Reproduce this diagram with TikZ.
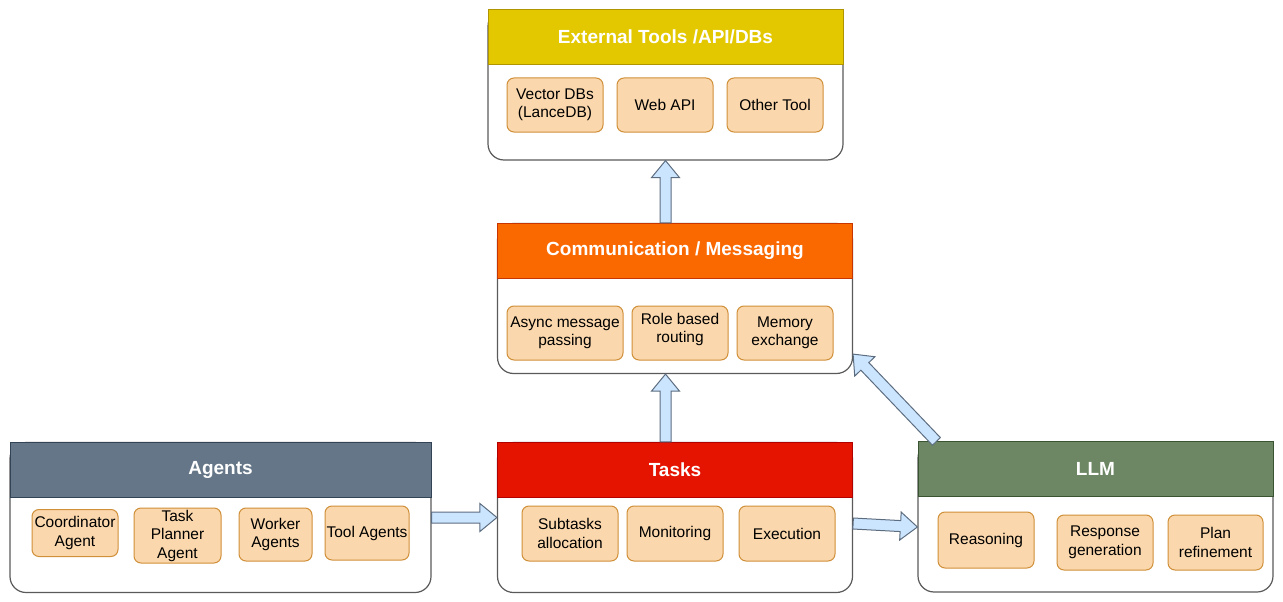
\documentclass[tikz,border=0pt]{standalone}
\usepackage{fontspec}
\setmainfont{Liberation Sans}
\usetikzlibrary{calc, positioning}
\usepackage{xcolor}

\definecolor{frameGray}{HTML}{5A5A5A}
\definecolor{itemFill}{HTML}{FAD7AC}
\definecolor{itemLine}{HTML}{D0903A}
\definecolor{arrowFill}{HTML}{CCE5FF}
\definecolor{arrowLine}{HTML}{5D6D80}
\definecolor{extHeadFill}{HTML}{E3C800}
\definecolor{extHeadLine}{HTML}{B09500}
\definecolor{commHeadFill}{HTML}{FA6800}
\definecolor{commHeadLine}{HTML}{C73500}
\definecolor{agentHeadFill}{HTML}{647687}
\definecolor{agentHeadLine}{HTML}{314354}
\definecolor{taskHeadFill}{HTML}{E51400}
\definecolor{taskHeadLine}{HTML}{B20000}
\definecolor{llmHeadFill}{HTML}{6D8764}
\definecolor{llmHeadLine}{HTML}{3A5431}

\begin{document}
\begin{tikzpicture}[
  x=1pt, y=-1pt,
  layer/.style={rectangle, draw=frameGray, line width=1.2pt, fill=white,
    rounded corners=16pt, minimum width=355, minimum height=150, inner sep=0pt},
  head/.style={rectangle, line width=0.8pt, minimum width=355, minimum height=55,
    anchor=north, text=white, font=\fontsize{19}{23}\selectfont\bfseries},
  item/.style={rectangle, draw=itemLine, fill=itemFill, rounded corners=7pt,
    line width=1pt, align=center, inner sep=0pt, minimum width=96,
    minimum height=54, font=\fontsize{15.5}{18.5}\selectfont},
  fatarrow/.style={draw=arrowLine, fill=arrowFill, line width=1pt, line join=miter,
    to path={
      ($(\tikztostart)!5.5pt!-90:(\tikztotarget)$)
      -- ($(\tikztotarget)!17pt!(\tikztostart)!5.5pt!90:(\tikztostart)$)
      -- ($(\tikztotarget)!17pt!(\tikztostart)!14pt!90:(\tikztostart)$)
      -- (\tikztotarget)
      -- ($(\tikztotarget)!17pt!(\tikztostart)!14pt!-90:(\tikztostart)$)
      -- ($(\tikztotarget)!17pt!(\tikztostart)!5.5pt!-90:(\tikztostart)$)
      -- ($(\tikztostart)!5.5pt!90:(\tikztotarget)$) -- cycle}}
]
\useasboundingbox (0,0) rectangle (1283,602);

% layers
\node[layer] (ext) at (665.5,85) {};
\node[layer] (comm) at (675,298.5) {};
\node[layer, minimum width=421] (agents) at (220.5,517.5) {};
\node[layer] (tasks) at (675,517.5) {};
\node[layer] (llm) at (1095.5,517) {};

\node[head, fill=extHeadFill, draw=extHeadLine] (extHead) at (ext.north) {External Tools /API/DBs};
\node[head, fill=commHeadFill, draw=commHeadLine] (commHead) at (comm.north) {Communication / Messaging};
\node[head, fill=agentHeadFill, draw=agentHeadLine, minimum width=421] (agentsHead) at (agents.north) {Agents};
\node[head, fill=taskHeadFill, draw=taskHeadLine] (tasksHead) at (tasks.north) {Tasks};
\node[head, fill=llmHeadFill, draw=llmHeadLine] (llmHead) at (llm.north) {LLM};

% components
\node[item] (vectorDb) at (555,105) {Vector DBs\\(LanceDB)};
\node[item] (webApi) at (665,105) {Web API};
\node[item] (otherTool) at (775,105) {Other Tool};

\node[item, minimum width=116] (asyncMsg) at (565,333) {Async message\\passing};
\node[item] (roleRouting) at (680,333) {Role based\\routing\\[-8pt]};
\node[item] (memExchange) at (785,333) {Memory\\exchange};

\node[item, minimum width=86, minimum height=47] (coordAgent) at (75,533) {Coordinator\\Agent};
\node[item, minimum width=87, minimum height=55] (plannerAgent) at (177.5,535.5) {Task\\Planner\\Agent};
\node[item, minimum width=73, minimum height=53] (workerAgents) at (275.5,534.5) {Worker\\Agents};
\node[item, minimum width=84] (toolAgents) at (367,533) {Tool Agents};

\node[item, minimum height=55] (subtasks) at (570,533.5) {Subtasks\\allocation};
\node[item, minimum height=55] (monitoring) at (675,533.5) {Monitoring};
\node[item, minimum height=55] (execution) at (787,533.5) {Execution};

\node[item, minimum height=56] (reasoning) at (986,540) {Reasoning};
\node[item, minimum height=55] (response) at (1105,542.5) {Response\\generation};
\node[item, minimum width=95, minimum height=55] (planRefine) at (1215.5,542.5) {Plan\\refinement};

% flow
\coordinate (llmOut) at ([xshift=19pt]llm.north west);
\coordinate (commIn) at ([yshift=20pt]comm.south east);
\draw[fatarrow] (comm.north -| ext.south) to (ext.south);
\draw[fatarrow] (tasks.north -| ext.south) to (comm.south -| ext.south);
\draw[fatarrow] (agents.east) to (tasks.west);
\draw[fatarrow] ([yshift=-6pt]tasks.east) to ([yshift=-10pt]llm.west);
\draw[fatarrow] (llmOut) to (commIn);

\end{tikzpicture}
\end{document}
